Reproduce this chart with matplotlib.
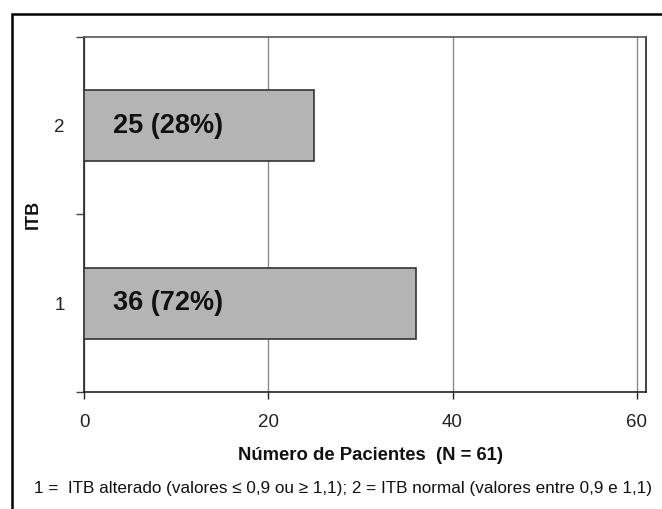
import matplotlib.pyplot as plt
from matplotlib.patches import Rectangle
from matplotlib.ticker import FixedLocator

# dados do gráfico
categorias = [1, 2]
pacientes = [36, 25]
percentuais = ['72%', '28%']
x_ticks = [0, 20, 40, 60]
n_total = 61

plt.rcParams['font.family'] = ['Liberation Sans', 'DejaVu Sans']

fig = plt.figure(figsize=(6.62, 5.09), dpi=100)
ax = fig.add_axes([0.1269, 0.2299, 0.8489, 0.6974])

ax.barh(categorias, pacientes, height=0.4, color='#b4b4b4',
        edgecolor='#333333', linewidth=1.2, zorder=3)

for c, v, p in zip(categorias, pacientes, percentuais):
    ax.text(3.1, c, '%d (%s)' % (v, p), ha='left', va='center',
            fontsize=19.5, fontweight='bold', color='#111111', zorder=4)

ax.set_xlim(0, n_total)
ax.set_ylim(0.5, 2.5)
ax.set_xticks(x_ticks)
ax.set_yticks(categorias)
ax.yaxis.set_minor_locator(FixedLocator([0.5, 1.5, 2.5]))

ax.tick_params(axis='x', direction='out', length=5, width=1, pad=11,
               labelsize=13.5, colors='#222222')
ax.tick_params(axis='y', which='major', length=0, pad=14,
               labelsize=13.5, colors='#222222')
ax.tick_params(axis='y', which='minor', direction='out', length=6, width=1,
               color='#444444')

ax.grid(axis='x', color='#8a8a8a', linewidth=1, zorder=0)

for lado in ['left', 'bottom', 'right']:
    ax.spines[lado].set_color('#222222')
    ax.spines[lado].set_linewidth(1.2)
ax.spines['top'].set_color('#555555')
ax.spines['top'].set_linewidth(1.2)

ax.set_xlabel('Número de Pacientes  (N = %d)' % n_total, fontsize=13.3,
              fontweight='bold', color='#111111')
ax.xaxis.set_label_coords(0.51, -0.178, transform=ax.transAxes)
ax.xaxis.label.set_va('center')
ax.set_ylabel('ITB', fontsize=13, fontweight='bold', labelpad=9,
              color='#111111')

fig.text(0.518, 1 - 488 / 509,
         '1 =  ITB alterado (valores ≤ 0,9 ou ≥ 1,1); '
         '2 = ITB normal (valores entre 0,9 e 1,1)',
         ha='center', va='center', fontsize=12.3, color='#111111')

# moldura externa
fig.add_artist(Rectangle((12 / 662, -0.2), 1.2, 1 - 14 / 509 + 0.2,
                         transform=fig.transFigure, fill=False,
                         edgecolor='black', linewidth=1.8))

fig.savefig('out.png', dpi=100)
